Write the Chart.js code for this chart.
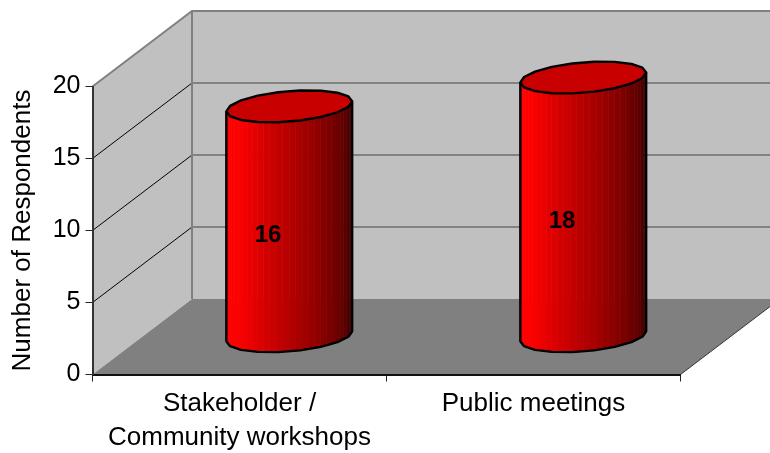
<!DOCTYPE html>
<html>
<head>
<meta charset="utf-8">
<style>html,body{margin:0;padding:0;background:#fff}canvas{display:block}</style>
<script src="https://cdn.jsdelivr.net/npm/chart.js@4/dist/chart.umd.js"></script>
</head>
<body>
<canvas id="c" width="770" height="453"></canvas>
<script>
const categories = [["Stakeholder /", "Community workshops"], "Public meetings"];
const respondents = [16, 18];
const axisTitle = "Number of Respondents";
const FONT = '"Liberation Sans", Arial, sans-serif';
const DX = 99.5, DY = -75.5;   // depth vector of the 3D box

const box3d = {
  id: 'box3d',
  beforeDraw(chart) {
    const c = chart.ctx, a = chart.chartArea, y = chart.scales.y;
    const L = a.left, R = a.right, T = a.top, B = a.bottom;
    c.save();
    c.fillStyle = '#fff'; c.fillRect(0, 0, chart.width, chart.height);
    c.save(); c.beginPath(); c.rect(0, 0, chart.width, chart.height); c.clip();
    // back wall + side wall
    c.fillStyle = '#C0C0C0';
    c.beginPath();
    c.moveTo(L, B); c.lineTo(L, T); c.lineTo(L + DX, T + DY); c.lineTo(R + DX, T + DY);
    c.lineTo(R + DX, B + DY); c.lineTo(L + DX, B + DY); c.closePath(); c.fill();
    // floor
    c.fillStyle = '#808080';
    c.beginPath();
    c.moveTo(L, B); c.lineTo(L + DX, B + DY); c.lineTo(R + DX, B + DY); c.lineTo(R, B); c.closePath(); c.fill();
    // grid lines
    y.ticks.forEach(t => {
      if (t.value === 0) return;
      const py = y.getPixelForValue(t.value);
      if (t.value < y.max) {
        c.strokeStyle = '#000'; c.lineWidth = 1;
        c.beginPath(); c.moveTo(L, py); c.lineTo(L + DX, py + DY); c.stroke();
      }
      c.strokeStyle = '#6e6e6e'; c.lineWidth = 1.5;
      c.beginPath(); c.moveTo(L + DX, py + DY); c.lineTo(R + DX, py + DY); c.stroke();
    });
    // box edges
    c.strokeStyle = '#808080'; c.lineWidth = 2;
    c.beginPath(); c.moveTo(L, T); c.lineTo(L + DX, T + DY); c.lineTo(R + DX, T + DY); c.stroke();
    c.beginPath(); c.moveTo(L + DX, T + DY); c.lineTo(L + DX, B + DY); c.stroke();
    c.strokeStyle = '#333'; c.lineWidth = 1;
    c.beginPath(); c.moveTo(R, B); c.lineTo(R + DX, B + DY); c.stroke();
    c.restore();
    c.restore();
  },
  afterDatasetsDraw(chart) {
    const c = chart.ctx;
    chart.getDatasetMeta(0).data.forEach((el, i) => {
      const cx = el.x + DX / 2, top = el.y + DY / 2, base = el.base + DY / 2;
      const a = el.width / 2, h = 15.2, s = 5, n = 9;
      const pt = (t, cy) => [cx + a * Math.cos(t), cy + h * Math.sin(t) - s * Math.cos(t)];
      c.save();
      const strips = 30;
      for (let k = 0; k < strips; k++) {
        const t0 = Math.PI - Math.PI * k / strips, t1 = Math.PI - Math.PI * (k + 1) / strips;
        const p0 = pt(t0, base), p1 = pt(t1, base), q1 = pt(t1, top), q0 = pt(t0, top);
        const u = (k + 0.5) / strips;
        const v = u < 0.2 ? 255 : 255 - 205 * Math.pow((u - 0.2) / 0.8, 1.05);
        c.fillStyle = `rgb(${Math.round(v)},0,0)`;
        c.strokeStyle = c.fillStyle; c.lineWidth = 0.6;
        c.beginPath(); c.moveTo(p0[0], p0[1]); c.lineTo(p1[0], p1[1]); c.lineTo(q1[0], q1[1]); c.lineTo(q0[0], q0[1]);
        c.closePath(); c.fill(); c.stroke();
      }
      c.strokeStyle = '#000'; c.lineWidth = 2.4; c.lineJoin = 'round';
      c.beginPath();
      const l = pt(Math.PI, top); c.moveTo(l[0], l[1]);
      for (let k = 0; k <= n; k++) { const p = pt(Math.PI - Math.PI * k / n, base); c.lineTo(p[0], p[1]); }
      const r = pt(0, top); c.lineTo(r[0], r[1]);
      c.stroke();
      c.fillStyle = '#C80000';
      c.beginPath();
      for (let k = 0; k < 2 * n; k++) {
        const p = pt(Math.PI * k / n, top);
        k ? c.lineTo(p[0], p[1]) : c.moveTo(p[0], p[1]);
      }
      c.closePath(); c.fill(); c.stroke();
      c.fillStyle = '#000'; c.font = 'bold 24px ' + FONT;
      c.textAlign = 'center'; c.textBaseline = 'middle';
      c.fillText(String(respondents[i]), el.x + 28.5, (el.y + el.base) / 2 - 23.5);
      c.restore();
    });
  }
};

new Chart(document.getElementById('c'), {
  type: 'bar',
  data: {
    labels: categories,
    datasets: [{ data: respondents, backgroundColor: 'rgba(0,0,0,0)', borderWidth: 0,
                 barPercentage: 0.428, categoryPercentage: 1 }]
  },
  plugins: [box3d],
  options: {
    responsive: false, animation: false, devicePixelRatio: 1,
    layout: { padding: { top: 86.5, right: 89.5, left: 0, bottom: 0 } },
    plugins: { legend: { display: false }, tooltip: { enabled: false } },
    scales: {
      x: {
        afterFit: s => { s.height = 78.5; },
        grid: { drawOnChartArea: false, drawTicks: true, tickLength: 7, color: '#222', lineWidth: 1 },
        border: { display: true, color: '#111', width: 2 },
        ticks: { color: '#000', font: { family: FONT, size: 26, lineHeight: 1.31 }, padding: 5, maxRotation: 0, autoSkip: false }
      },
      y: {
        min: 0, max: 20,
        afterFit: s => { s.width = 92.5; },
        title: { display: true, text: axisTitle, color: '#000', font: { family: FONT, size: 26, lineHeight: 1 }, padding: { top: 10, bottom: 0 } },
        grid: { drawOnChartArea: false, drawTicks: true, tickLength: 7, color: '#222', lineWidth: 1 },
        border: { display: true, color: '#333', width: 2 },
        ticks: { stepSize: 5, color: '#000', font: { family: FONT, size: 25 }, padding: 5 }
      }
    }
  }
});
</script>
</body>
</html>
